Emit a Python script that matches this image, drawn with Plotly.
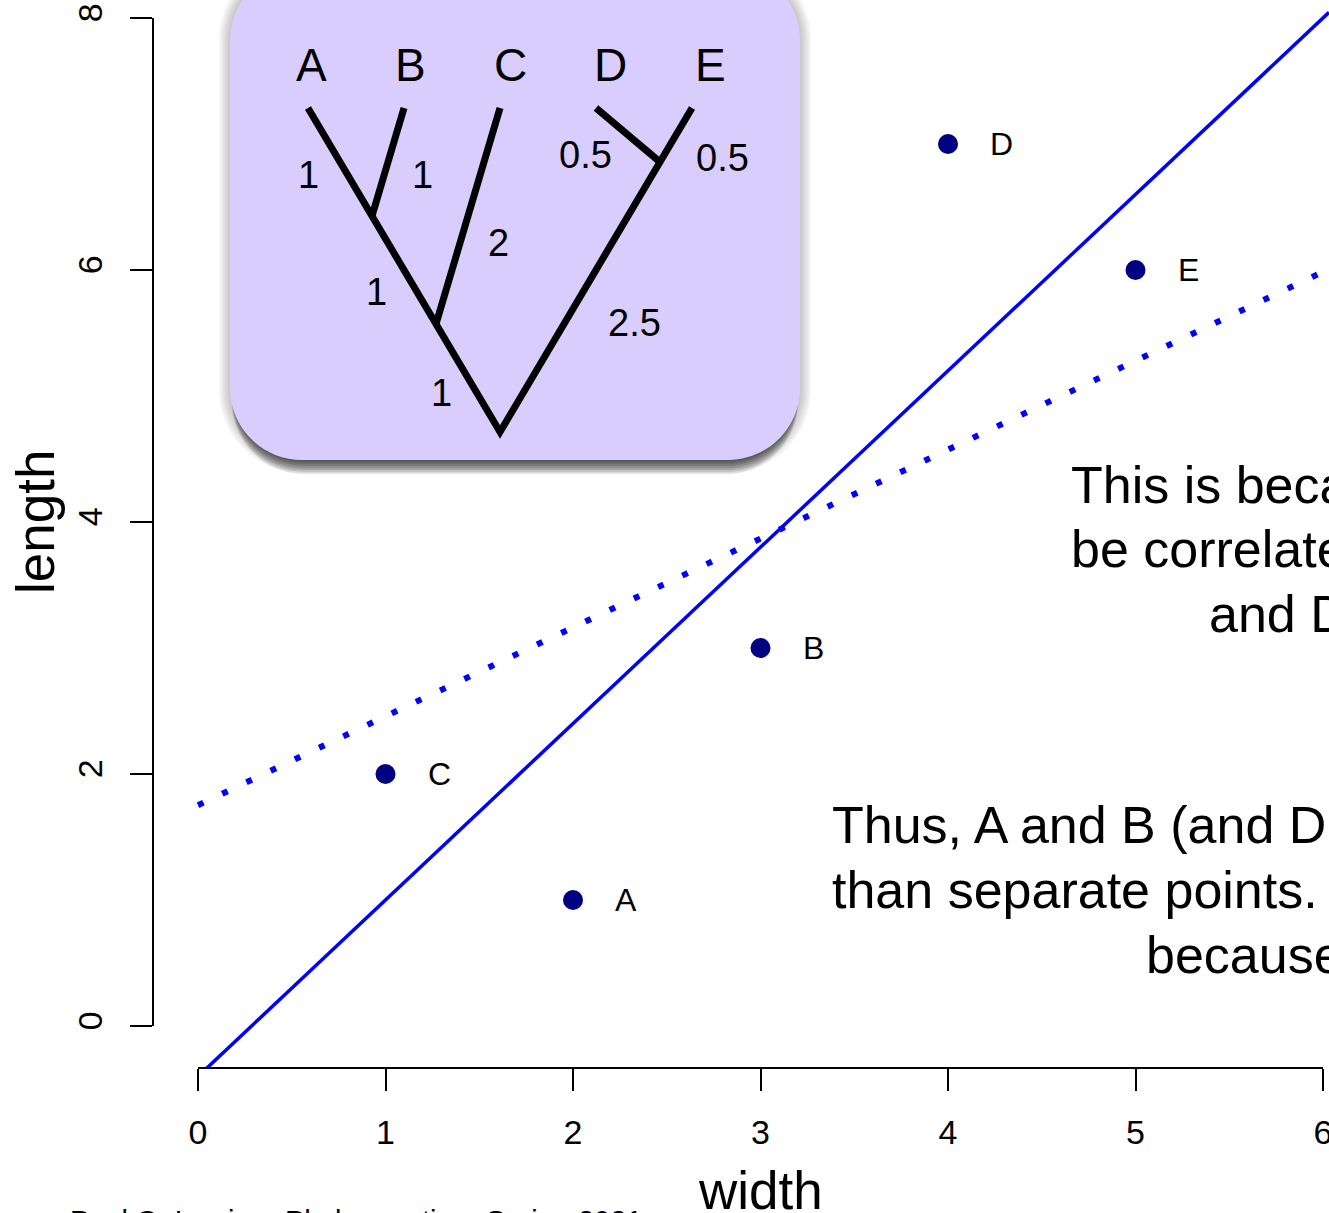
import numpy as np
import plotly.graph_objects as go

# ---- trait data for five species ----
species = ["A", "B", "C", "D", "E"]
width = [2, 3, 1, 4, 5]
length = [1, 3, 2, 7, 6]

x_ticks = [0, 1, 2, 3, 4, 5, 6]
y_ticks = [0, 2, 4, 6, 8]

# ---- phylogeny: (parent, child, branch length) ----
edges = [
    ("root", "ABC", 1.0),
    ("ABC", "AB", 1.0),
    ("AB", "A", 1.0),
    ("AB", "B", 1.0),
    ("ABC", "C", 2.0),
    ("root", "DE", 2.5),
    ("DE", "D", 0.5),
    ("DE", "E", 0.5),
]

text_block_1 = ["This is because", "be correlated", "and D"]
text_block_2 = ["Thus, A and B (and D", "than separate points.", "because"]
credit = ["Paul O. Lewis", "Phylogenetics", "Spring 2021"]

FONT = "Liberation Sans, Arial, Helvetica, sans-serif"
NAVY = "#000080"
BLUE = "#0000ff"

# ---- figure geometry (pixels) ----
W, H = 1329, 1213
ML, MR, MT, MB = 153, 0, 0, 145
PW, PH = W - ML - MR, H - MT - MB
XPX, YPX = 187.5, 126.0          # pixels per data unit
x_range = [-0.24, -0.24 + PW / XPX]
y_range = [-1/3, -1/3 + PH / YPX]


def X(px):
    return (px - ML) / PW


def Y(py):
    return (MT + PH - py) / PH


# ---- tree layout ----
parent = {c: p for p, c, _ in edges}
blen = {c: l for _, c, l in edges}
children = {}
for p, c, _ in edges:
    children.setdefault(p, []).append(c)


def depth(n):
    return 0.0 if n == "root" else depth(parent[n]) + blen[n]


def ancestors(n):
    out = [n]
    while n != "root":
        n = parent[n]
        out.append(n)
    return out


def tips_under(n):
    if n not in children:
        return [n]
    r = []
    for c in children[n]:
        r += tips_under(c)
    return r


tip_x = {s: float(i) for i, s in enumerate(species)}
tip_depth = depth(species[0])
root_x = (tip_x[species[0]] + tip_x[species[-1]]) / 2
left_side = set(tips_under(children["root"][0]))

node_xy = {"root": (root_x, 0.0)}
for _, c, _ in edges:
    d = depth(c)
    if c in tip_x:
        node_xy[c] = (tip_x[c], d)
    else:
        sub = tips_under(c)
        ref = species[0] if sub[0] in left_side else species[-1]
        node_xy[c] = (root_x + (tip_x[ref] - root_x) * d / tip_depth, d)

# ---- phylogenetic covariance and GLS fit ----
n = len(species)
V = np.zeros((n, n))
for i, a in enumerate(species):
    anc_a = ancestors(a)
    for j, b in enumerate(species):
        anc_b = set(ancestors(b))
        mrca = next(m for m in anc_a if m in anc_b)
        V[i, j] = depth(mrca)

xv = np.array(width, float)
yv = np.array(length, float)
Xd = np.column_stack([np.ones(n), xv])
Wi = np.linalg.inv(V)
gls = np.linalg.solve(Xd.T @ Wi @ Xd, Xd.T @ Wi @ yv)   # intercept, slope
ols_slope, ols_int = np.polyfit(xv, yv, 1)

fig = go.Figure()

# ordinary least squares line across the full plot
ols_x = np.array(x_range)
fig.add_trace(go.Scatter(x=ols_x, y=ols_int + ols_slope * ols_x, mode="lines",
                         line=dict(color=BLUE, width=3.5), hoverinfo="skip"))

# phylogenetic GLS line (dotted)
gls_x = np.array([x_ticks[0], x_ticks[-1]], float)
fig.add_trace(go.Scatter(x=gls_x, y=gls[0] + gls[1] * gls_x, mode="lines",
                         line=dict(color=BLUE, width=6, dash="6px,20.8px"),
                         hoverinfo="skip"))

# species points
fig.add_trace(go.Scatter(x=width, y=length, mode="markers",
                         marker=dict(color=NAVY, size=20, line=dict(width=0)),
                         hoverinfo="skip"))

# ---- tree drawn on its own inset axes ----
spine = ancestors(species[0]) + list(reversed(ancestors(species[-1])))[1:]
spine_set = set(zip(spine[:-1], spine[1:])) | set(zip(spine[1:], spine[:-1]))
sx = [node_xy[k][0] for k in spine]
sy = [node_xy[k][1] for k in spine]
fig.add_trace(go.Scatter(x=sx, y=sy, mode="lines", xaxis="x2", yaxis="y2",
                         line=dict(color="black", width=7), hoverinfo="skip"))
ox, oy = [], []
for p, c, _ in edges:
    if (p, c) in spine_set:
        continue
    ox += [node_xy[c][0], node_xy[p][0], None]
    oy += [node_xy[c][1], node_xy[p][1], None]
fig.add_trace(go.Scatter(x=ox, y=oy, mode="lines", xaxis="x2", yaxis="y2",
                         line=dict(color="black", width=7), hoverinfo="skip"))

annotations = []

# tip names
for i, s in enumerate(species):
    annotations.append(dict(x=tip_x[s], y=tip_depth + 0.4, xref="x2", yref="y2",
                            text=s, showarrow=False, xshift=3 + 3.8 * i,
                            font=dict(family=FONT, size=46, color="black")))

# branch length labels (pixel offsets from branch midpoints)
label_offset = {"A": (-32, 13), "B": (34, 13), "AB": (-28, 22), "C": (30, 27),
                "ABC": (-27, 15), "DE": (54, 26), "D": (-43, 20), "E": (46, 23)}
for p, c, l in edges:
    mx = (node_xy[p][0] + node_xy[c][0]) / 2
    my = (node_xy[p][1] + node_xy[c][1]) / 2
    dx, dy = label_offset[c]
    annotations.append(dict(x=mx, y=my, xref="x2", yref="y2", text=f"{l:g}",
                            showarrow=False, xshift=dx, yshift=-dy,
                            font=dict(family=FONT, size=38, color="black")))

# point labels
for s, a, b in zip(species, width, length):
    annotations.append(dict(x=a, y=b, xref="x", yref="y", text=s, showarrow=False,
                            xanchor="left", xshift=40,
                            font=dict(family=FONT, size=32, color="black")))

# axis titles
annotations.append(dict(x=X(35), y=4, xref="paper", yref="y", text="length",
                        textangle=-90, showarrow=False, xanchor="center",
                        yanchor="middle",
                        font=dict(family=FONT, size=53, color="black")))
annotations.append(dict(x=3, y=Y(1190), xref="x", yref="paper", text="width",
                        showarrow=False, yanchor="middle", xanchor="center",
                        font=dict(family=FONT, size=53, color="black")))

# explanatory text
for txt, lx, cy in zip(text_block_1, [1069, 1069, 1207], [485, 549, 614]):
    annotations.append(dict(x=X(lx), y=Y(cy), xref="paper", yref="paper", text=txt,
                            showarrow=False, xanchor="left", yanchor="middle",
                            font=dict(family=FONT, size=52, color="black")))
for txt, lx, cy in zip(text_block_2, [830, 830, 1144], [825, 890, 955]):
    annotations.append(dict(x=X(lx), y=Y(cy), xref="paper", yref="paper", text=txt,
                            showarrow=False, xanchor="left", yanchor="middle",
                            font=dict(family=FONT, size=52, color="black")))

# credit line
for txt, lx in zip(credit, [68, 283, 484]):
    annotations.append(dict(x=X(lx), y=Y(1203), xref="paper", yref="paper", text=txt,
                            showarrow=False, xanchor="left", yanchor="top",
                            font=dict(family=FONT, size=29, color="black")))


# ---- inset panel: rounded box with drop shadow ----
def rrect(x0, y0, x1, y1, r):
    k = 0.5523 * r
    pts = [
        ("M", [(x0 + r, y0)]),
        ("L", [(x1 - r, y0)]),
        ("C", [(x1 - r + k, y0), (x1, y0 + r - k), (x1, y0 + r)]),
        ("L", [(x1, y1 - r)]),
        ("C", [(x1, y1 - r + k), (x1 - r + k, y1), (x1 - r, y1)]),
        ("L", [(x0 + r, y1)]),
        ("C", [(x0 + r - k, y1), (x0, y1 - r + k), (x0, y1 - r)]),
        ("L", [(x0, y0 + r)]),
        ("C", [(x0, y0 + r - k), (x0 + r - k, y0), (x0 + r, y0)]),
    ]
    out = ""
    for cmd, ps in pts:
        out += cmd + " ".join(f"{X(a):.5f},{Y(b):.5f}" for a, b in ps) + " "
    return out + "Z"


BOX = (230, -32, 800, 460, 72)
shapes = []
for k in range(8):
    s = 1.6 * k
    shapes.append(dict(type="path", xref="paper", yref="paper", layer="below",
                       path=rrect(BOX[0] - s, BOX[1] - s, BOX[2] + s, BOX[3] + s + 2, BOX[4] + s),
                       fillcolor="rgba(0,0,0,0.03)", line=dict(width=0)))
for dy in (2, 4, 6, 8, 10, 12, 14):
    shapes.append(dict(type="path", xref="paper", yref="paper", layer="below",
                       path=rrect(BOX[0] + 2, BOX[1] + dy, BOX[2] - 2, BOX[3] + dy, BOX[4]),
                       fillcolor="rgba(0,0,0,0.10)", line=dict(width=0)))
shapes.append(dict(type="path", xref="paper", yref="paper", layer="below",
                   path=rrect(*BOX), fillcolor="#d8cdfc", line=dict(width=0)))

# axis lines spanning the tick range only
shapes.append(dict(type="line", xref="paper", yref="y", x0=0, x1=0,
                   y0=y_ticks[0], y1=y_ticks[-1], line=dict(color="black", width=2)))
shapes.append(dict(type="line", xref="x", yref="paper", x0=x_ticks[0], x1=x_ticks[-1],
                   y0=0, y1=0, line=dict(color="black", width=2)))

inset_x_px = (230, 800)
inset_y_px = (0, 460)
x2_range = [(inset_x_px[0] - 308) / 96, (inset_x_px[1] - 308) / 96]
y2_range = [(432 - inset_y_px[1]) / 108, (432 - inset_y_px[0]) / 108]

fig.update_layout(
    width=W, height=H,
    margin=dict(l=ML, r=MR, t=MT, b=MB, pad=0, autoexpand=False),
    paper_bgcolor="white", plot_bgcolor="rgba(0,0,0,0)",
    showlegend=False,
    font=dict(family=FONT, color="black"),
    xaxis=dict(range=x_range, tickvals=x_ticks, ticktext=[str(v) for v in x_ticks],
               ticks="outside", ticklen=22, tickwidth=2, tickcolor="black",
               showline=False, showgrid=False, zeroline=False, automargin=False,
               tickfont=dict(family=FONT, size=34, color="black"),
               ticklabelstandoff=12, ticklabeloverflow="allow", fixedrange=True),
    yaxis=dict(range=y_range, tickvals=y_ticks, ticktext=[str(v) for v in y_ticks],
               ticks="outside", ticklen=22, tickwidth=2, tickcolor="black",
               showline=False, showgrid=False, zeroline=False, tickangle=-90,
               automargin=False,
               tickfont=dict(family=FONT, size=34, color="black"),
               ticklabelstandoff=14, ticklabeloverflow="allow", fixedrange=True),
    xaxis2=dict(domain=[X(inset_x_px[0]), X(inset_x_px[1])], range=x2_range,
                anchor="y2", visible=False, fixedrange=True),
    yaxis2=dict(domain=[Y(inset_y_px[1]), Y(inset_y_px[0])], range=y2_range,
                anchor="x2", visible=False, fixedrange=True),
    shapes=shapes,
    annotations=annotations,
)

fig.write_html("out.html", config={"displayModeBar": False})
